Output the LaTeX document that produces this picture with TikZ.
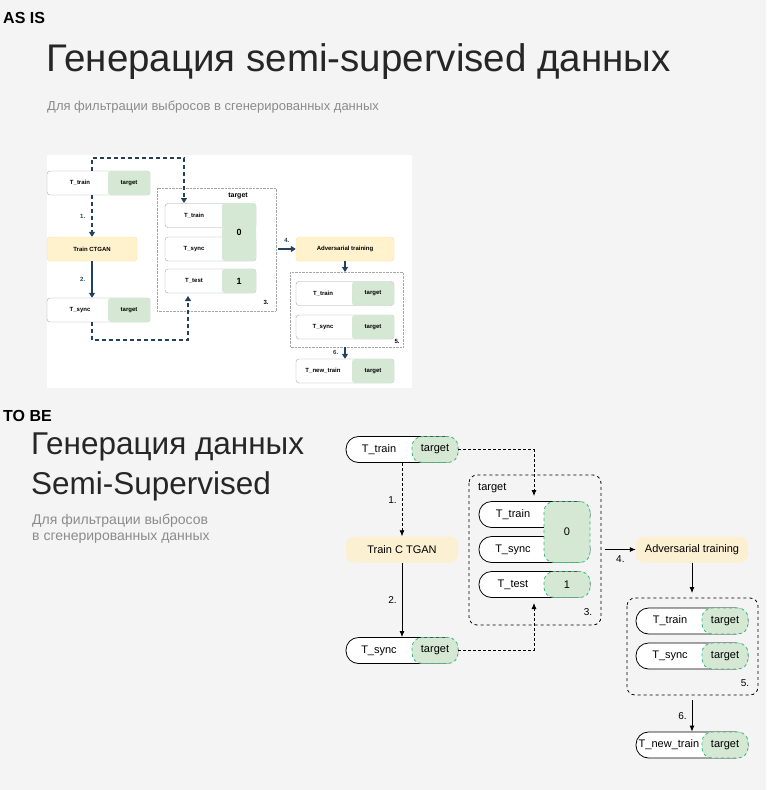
\documentclass[tikz,border=0pt]{standalone}
\usepackage{fontspec}
\setmainfont{Liberation Sans}
\usetikzlibrary{arrows.meta}
\definecolor{bg}{HTML}{F4F4F4}
\definecolor{navy}{HTML}{23405E}
\definecolor{gfill}{HTML}{D5E8D4}
\definecolor{gline}{HTML}{2DBF7C}
\definecolor{yfill}{HTML}{FFF2CC}
\definecolor{yfillb}{HTML}{FCF0D2}
\definecolor{txtgray}{HTML}{8C8C8C}
\begin{document}
\begin{tikzpicture}[x=1pt,y=-1pt,
        every node/.style={inner sep=0pt, font=\fontsize{13}{15}\selectfont},
        % old (as is) diagram
        opill/.style={draw=gray!70, fill=white, rounded corners=3pt, minimum width=103pt, minimum height=24pt},
        otgt/.style={fill=gfill, rounded corners=3pt, minimum width=42pt, minimum height=24pt, font=\fontsize{6}{7}\bfseries\selectfont},
        otxt/.style={font=\fontsize{6}{7}\bfseries\selectfont},
        obox/.style={draw=gray!70, densely dotted},
        oyel/.style={fill=yfill, rounded corners=3pt, draw=yfill!80!orange, minimum height=24pt, font=\fontsize{6}{7}\bfseries\selectfont},
        oarr/.style={navy, line width=1.6pt, -{Triangle[length=5pt,width=6pt]}},
        odash/.style={oarr, dash pattern=on 4pt off 3pt},
        % new (to be) diagram
        pill/.style={draw, thick, fill=white, rounded corners=12.5pt, minimum width=112pt, minimum height=26pt},
        tgt/.style={draw=gline, dashed, thick, fill=gfill, rounded corners=10pt, minimum width=46pt, minimum height=26pt, font=\fontsize{11}{13}\selectfont},
        ptxt/.style={font=\fontsize{11}{13}\selectfont},
        ybox/.style={fill=yfillb, rounded corners=8pt, minimum width=112pt, minimum height=26pt, font=\fontsize{11}{13}\selectfont},
        dbox/.style={draw, thick, dashed, rounded corners=8pt},
        arr/.style={thick, -{Latex[length=6pt,width=5pt]}},
        darr/.style={arr, densely dashed},
        num/.style={font=\fontsize{10}{12}\selectfont},
    ]
    \fill[bg] (0,0) rectangle (766,790);
    \useasboundingbox (0,0) rectangle (766,790);

    % headings
    \node[anchor=west, font=\fontsize{16}{18}\bfseries\selectfont] (asis) at (3,18) {AS IS};
    \node[anchor=west, font=\fontsize{16}{18}\bfseries\selectfont] (tobe) at (3,416) {TO BE};
    \node[anchor=west, font=\fontsize{38.5}{44}\selectfont, text=black!85] (title) at (46,62) {Генерация semi-supervised данных};
    \node[anchor=west, font=\fontsize{13}{15}\selectfont, text=txtgray] (sub) at (47,107) {Для фильтрации выбросов в сгенерированных данных};
    \node[anchor=north west, align=left, font=\fontsize{31.5}{40}\selectfont, text=black!85] (title2) at (31,433) {Генерация данных\\Semi-Supervised};
    \node[anchor=north west, align=left, font=\fontsize{14}{16}\selectfont, text=txtgray] (sub2) at (32,514) {Для фильтрации выбросов\\в сгенерированных данных};

    % ---------- as is ----------
    \fill[white] (47,155) rectangle (412,388);
    \node[opill] (otr) at (98.5,183) {};
    \node[otgt] (otrt) at (129,183) {target};
    \node[otxt] at (80,183) {T\_train};
    \node[oyel, minimum width=90pt] (octgan) at (92,249) {Train CTGAN};
    \node[opill] (osy) at (98.5,310) {};
    \node[otgt] (osyt) at (129,310) {target};
    \node[otxt] at (80,310) {T\_sync};

    \draw[obox] (157,188) rectangle (276,311);
    \node[font=\fontsize{7}{8}\bfseries\selectfont] (olab) at (238,196) {target};
    \node[opill, minimum width=91pt] (o3tr) at (210.5,215.5) {};
    \node[opill, minimum width=91pt] (o3sy) at (210.5,249) {};
    \node[opill, minimum width=91pt] (o3te) at (210.5,281) {};
    \node[otgt, minimum width=34pt, minimum height=58pt, font=\fontsize{9}{10}\bfseries\selectfont] (o0) at (239,232) {0};
    \node[otgt, minimum width=34pt, font=\fontsize{9}{10}\bfseries\selectfont] (o1) at (239,281) {1};
    \node[otxt] at (194,215.5) {T\_train};
    \node[otxt] at (194,249) {T\_sync};
    \node[otxt] at (194,281) {T\_test};
    \node[otxt] at (266,302) {3.};

    \node[oyel, minimum width=98pt] (oadv) at (345,249) {Adversarial training};
    \draw[obox] (290,272) rectangle (403,347);
    \node[opill, minimum width=98pt] (o5tr) at (345,293.5) {};
    \node[otgt] (o5trt) at (373,293.5) {target};
    \node[otxt] at (323,293.5) {T\_train};
    \node[opill, minimum width=98pt] (o5sy) at (345,327) {};
    \node[otgt] (o5syt) at (373,327) {target};
    \node[otxt] at (323,327) {T\_sync};
    \node[otxt] at (397,341) {5.};
    \node[opill, minimum width=98pt] (onew) at (345,371) {};
    \node[otgt] (onewt) at (373,371) {target};
    \node[otxt] at (323,371) {T\_new\_train};

    \draw[odash] (otr.south -| octgan) -- node[otxt, left=6pt] {1.} (octgan.north);
    \draw[odash] (92,171) -- (92,158) -- (184,158) -- (184,203);
    \draw[oarr] (octgan.south) -- node[otxt, left=6pt] {2.} (osy.north -| octgan);
    \draw[odash] (92,322) -- (92,340) -- (188,340) -- (188,296);
    \draw[oarr] (278,249) -- node[otxt, above=6pt] {4.} (oadv.west);
    \draw[oarr] (oadv.south) -- (345,272);
    \draw[oarr] (345,347) -- node[otxt, left=6pt] {6.} (onew.north);

    % ---------- to be ----------
    \node[pill] (tr) at (402,449.5) {};
    \node[tgt] (trt) at (435,449.5) {target};
    \node[ptxt] at (379,449.5) {T\_train};
    \node[ybox] (ctgan) at (402,549.5) {Train C TGAN};
    \node[pill] (sy) at (402,650.5) {};
    \node[tgt] (syt) at (435,650.5) {target};
    \node[ptxt] at (379,650.5) {T\_sync};

    \draw[dbox] (469,475) rectangle (601,625);
    \node[ptxt, anchor=west] (lab) at (478,488) {target};
    \node[pill, minimum width=111pt] (b3tr) at (534.5,514.5) {};
    \node[pill, minimum width=111pt] (b3sy) at (534.5,549.5) {};
    \node[pill, minimum width=111pt] (b3te) at (534.5,584.5) {};
    \node[tgt, minimum width=46pt, minimum height=61pt] (zero) at (567,532) {0};
    \node[tgt] (one) at (567,584.5) {1};
    \node[ptxt] at (513,514.5) {T\_train};
    \node[ptxt] at (513,549.5) {T\_sync};
    \node[ptxt] at (513,584.5) {T\_test};
    \node[num] at (588,612) {3.};

    \node[ybox] (adv) at (692,549.5) {Adversarial training};
    \draw[dbox] (627,598) rectangle (758,695);
    \node[pill] (b5tr) at (692,621) {};
    \node[tgt] (b5trt) at (725,621) {target};
    \node[ptxt] at (670,621) {T\_train};
    \node[pill] (b5sy) at (692,656) {};
    \node[tgt] (b5syt) at (725,656) {target};
    \node[ptxt] at (670,656) {T\_sync};
    \node[num] at (745,683) {5.};
    \node[pill] (new) at (692,745) {};
    \node[tgt] (newt) at (725,745) {target};
    \node[ptxt] at (669,745) {T\_new\_train};

    \draw[darr] (tr.south) -- (ctgan.north) node[num, midway, left=5pt] {1.};
    \draw[arr] (ctgan.south) -- (sy.north) node[num, midway, left=5pt] {2.};
    \draw[darr] (trt.east) -- (534,449.5) -- (534,496);
    \draw[darr] (syt.east) -- (534,650.5) -- (534,603);
    \draw[arr] (605,549.5) -- (adv.west) node[num, midway, below=6pt] {4.};
    \draw[arr] (adv.south) -- (692,593);
    \draw[arr] (692,700) -- (new.north) node[num, midway, left=5pt] {6.};
\end{tikzpicture}
\end{document}
